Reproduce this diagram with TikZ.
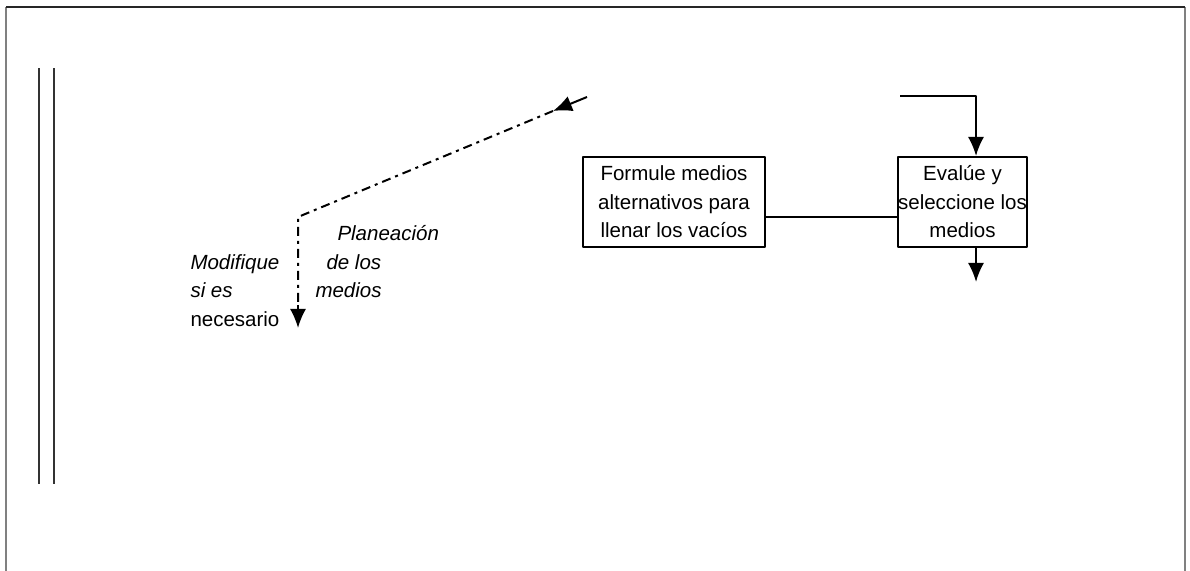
\documentclass[tikz,border=0pt]{standalone}
\usepackage{fontspec}
\setmainfont{Liberation Sans}
\usetikzlibrary{arrows.meta}
\tikzset{
  mediobox/.style={draw,line width=2bp,inner sep=0pt,align=center,
    font=\fontsize{20.5bp}{28.5bp}\selectfont},
  etiqueta/.style={inner sep=0pt,align=left,anchor=north west,
    font=\fontsize{20.5bp}{28.5bp}\selectfont},
  flecha/.style={-{Latex[length=19bp,width=16bp]},line width=2bp},
  punteada/.style={line width=2bp,dash pattern=on 9bp off 5bp on 3bp off 5bp},
}
\begin{document}
\begin{tikzpicture}[>=latex,line join=bevel,]
  \pgfsetlinewidth{1bp}
  \useasboundingbox (0bp,0bp) rectangle (1190bp,571bp);
%%
  % Frame
  \draw [gray,line width=1.5bp] (6bp,0bp) -- (6bp,564bp);
  \draw [gray,line width=1.5bp] (1185bp,0bp) -- (1185bp,564bp);
  \draw [black!85,line width=2bp] (6bp,564bp) -- (1185bp,564bp);
  % Double rule
  \draw [black!80,line width=1.5bp] (39bp,87bp) -- (39bp,503bp);
  \draw [black!80,line width=1.5bp] (54bp,87bp) -- (54bp,503bp);
  % Node: formule
  \node [mediobox,minimum width=182bp,minimum height=90bp] (formule) at (674bp,369bp)
    {Formule medios\\ alternativos para\\ llenar los vac\'ios};
  % Node: evalue
  \node [mediobox,minimum width=119bp,minimum height=90bp] (evalue) at (962.5bp,369bp)
    {Eval\'ue y\\ seleccione los\\ medios};
  % Edge: formule -- evalue
  \draw [line width=2bp] ([yshift=-15bp]formule.east) -- ([yshift=-15bp]evalue.west);
  % Edge: in -> evalue
  \coordinate (entrada) at (900bp,475bp);
  \draw [flecha] (entrada) -- (976bp,475bp) -- (976bp,369bp |- evalue.north);
  % Edge: evalue -> out
  \coordinate (salida) at (976bp,289bp);
  \draw [flecha] (976bp,369bp |- evalue.south) -- (salida);
  % Edge: feedback (dash dot)
  \coordinate (vuelta) at (587bp,474bp);
  \coordinate (punta) at (553bp,460bp);
  \coordinate (codo) at (298bp,354bp);
  \coordinate (bajo) at (298bp,266bp);
  \coordinate (fin) at (298bp,243bp);
  \draw [flecha] (vuelta) -- (punta);
  \draw [punteada] (punta) -- (codo) -- (bajo);
  \draw [flecha] (bajo) -- (fin);
  % Labels
  \node [etiqueta] (planeacion) at (315bp,346bp)
    {\itshape\hspace*{22bp}Planeaci\'on\\ \itshape\hspace*{11bp}de los\\ \itshape medios};
  \node [etiqueta] (modifique) at (190bp,317bp)
    {\itshape Modifique\\ \itshape si es\\ necesario};
%
\end{tikzpicture}
\end{document}
